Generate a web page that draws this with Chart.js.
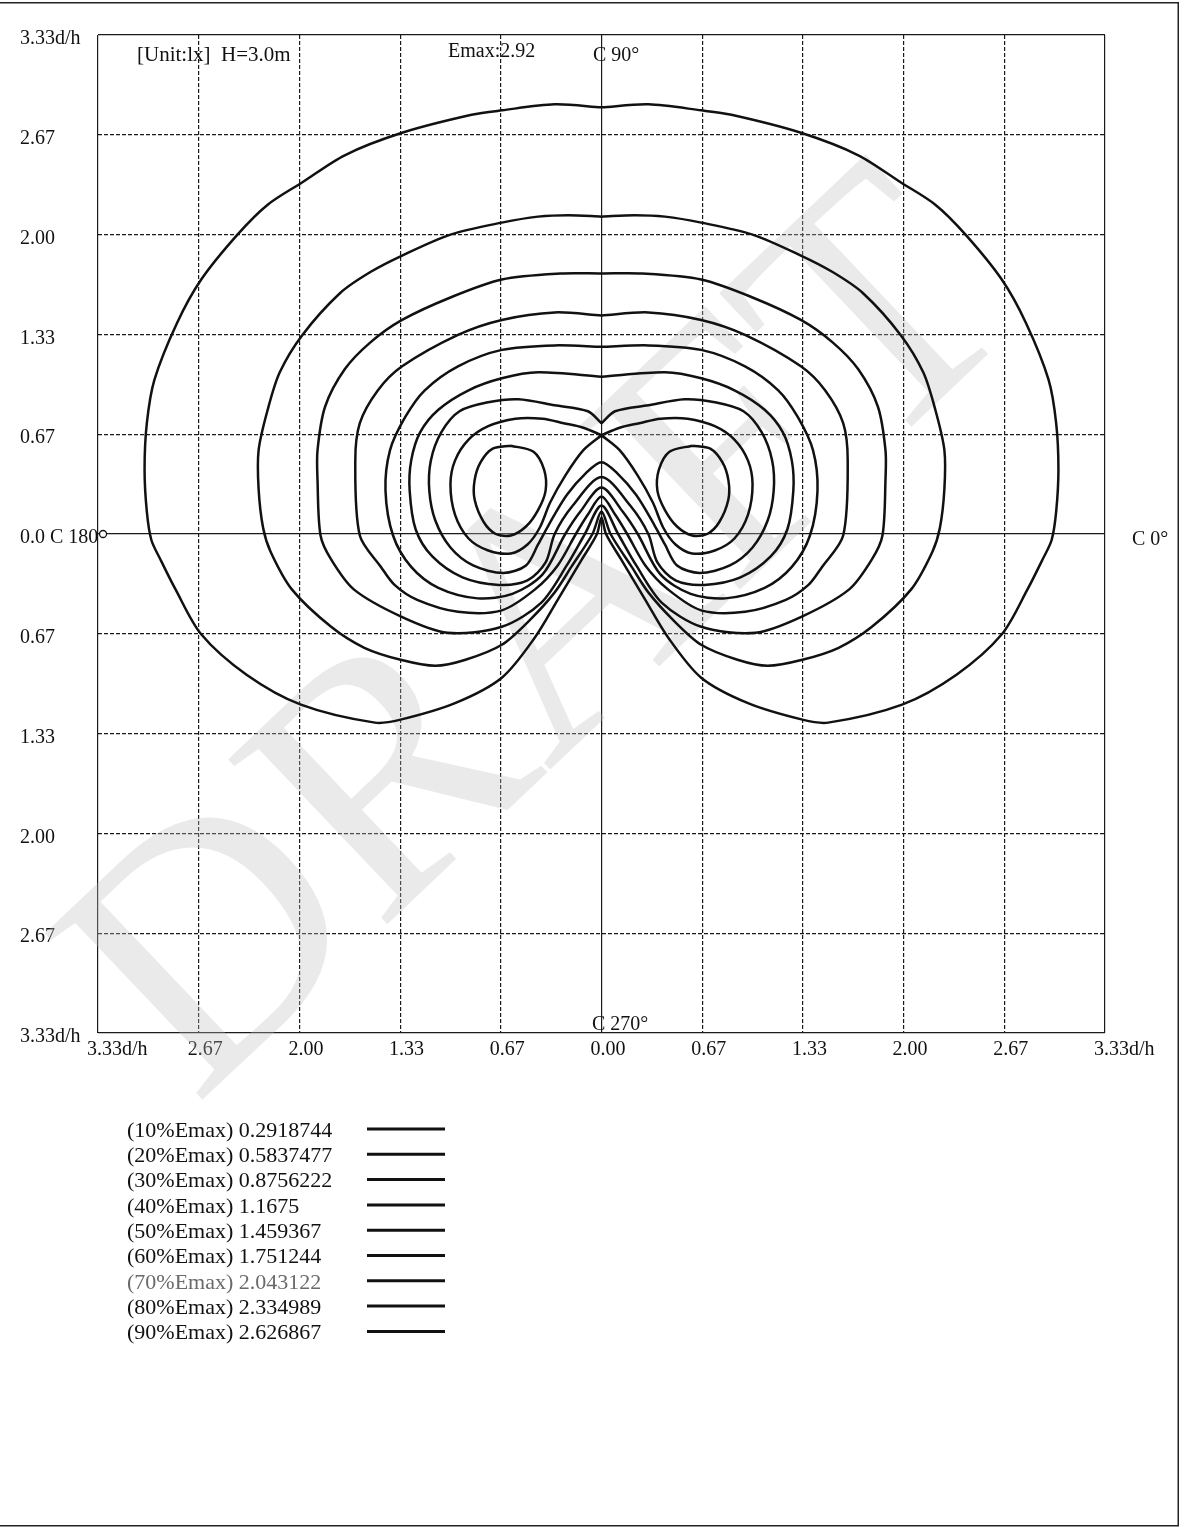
<!DOCTYPE html>
<html>
<head>
<meta charset="utf-8">
<script src="https://cdn.jsdelivr.net/npm/chart.js@4.4.1/dist/chart.umd.min.js"></script>
<style>
html,body{margin:0;padding:0;background:#fff;}
canvas{display:block;}
</style>
</head>
<body>
<canvas id="c" width="1181" height="1529"></canvas>
<script>
// ---- axis ticks ----
const tickValues = [-3.3333, -2.6667, -2.0, -1.3333, -0.6667, 0, 0.6667, 1.3333, 2.0, 2.6667, 3.3333];
const xTickLabels = ['3.33d/h','2.67','2.00','1.33','0.67','0.00','0.67','1.33','2.00','2.67','3.33d/h'];
const yTickLabels = ['3.33d/h','2.67','2.00','1.33','0.67','0.0 C 180','0.67','1.33','2.00','2.67','3.33d/h'];

// ---- legend ----
const levelNames = ['(10%Emax) 0.2918744','(20%Emax) 0.5837477','(30%Emax) 0.8756222','(40%Emax) 1.1675','(50%Emax) 1.459367','(60%Emax) 1.751244','(70%Emax) 2.043122','(80%Emax) 2.334989','(90%Emax) 2.626867'];

// ---- isolux contours (x, y in d/h) ----
const iso10X = [0,-0.31,-0.66,-0.86,-1.32,-1.70,-1.98,-2.21,-2.41,-2.65,-2.81,-2.96,-3.01,-3.025,-3.01,-2.98,-2.92,-2.82,-2.65,-2.35,-1.99,-1.50,-1.33,-0.97,-0.66,-0.44,-0.29,-0.13,-0.03,0,
  0.03,0.13,0.29,0.44,0.66,0.97,1.33,1.50,1.99,2.35,2.65,2.82,2.92,2.98,3.01,3.025,3.01,2.96,2.81,2.65,2.41,2.21,1.98,1.70,1.32,0.86,0.66,0.31,0];
const iso10Y = [2.85,2.87,2.83,2.80,2.68,2.53,2.35,2.20,2.00,1.70,1.41,1.03,0.74,0.43,0.15,-0.04,-0.17,-0.37,-0.67,-0.94,-1.14,-1.26,-1.24,-1.13,-0.96,-0.69,-0.44,-0.17,0,0.11,
  0,-0.17,-0.44,-0.69,-0.96,-1.13,-1.24,-1.26,-1.14,-0.94,-0.67,-0.37,-0.17,-0.04,0.15,0.43,0.74,1.03,1.41,1.70,2.00,2.20,2.35,2.53,2.68,2.80,2.83,2.87,2.85];

const iso20X = [0,-0.22,-0.42,-0.66,-1.00,-1.32,-1.53,-1.73,-1.98,-2.13,-2.21,-2.27,-2.27,-2.24,-2.19,-2.05,-1.79,-1.57,-1.33,-1.10,-0.90,-0.66,-0.47,-0.31,-0.20,-0.06,0,
  0.06,0.20,0.31,0.47,0.66,0.90,1.10,1.33,1.57,1.79,2.05,2.19,2.24,2.27,2.27,2.21,2.13,1.98,1.73,1.53,1.32,1.00,0.66,0.42,0.22,0];
const iso20Y = [2.12,2.13,2.12,2.08,2.00,1.86,1.75,1.61,1.33,1.08,0.83,0.56,0.30,0.04,-0.12,-0.37,-0.62,-0.76,-0.84,-0.88,-0.84,-0.74,-0.57,-0.39,-0.22,0,0.15,
  0,-0.22,-0.39,-0.57,-0.74,-0.84,-0.88,-0.84,-0.76,-0.62,-0.37,-0.12,0.04,0.30,0.56,0.83,1.08,1.33,1.61,1.75,1.86,2.00,2.08,2.12,2.13,2.12];

const iso30X = [0,-0.27,-0.66,-1.00,-1.32,-1.53,-1.70,-1.83,-1.88,-1.88,-1.86,-1.79,-1.64,-1.33,-1.02,-0.66,-0.40,-0.23,-0.11,0,
  0.11,0.23,0.40,0.66,1.02,1.33,1.64,1.79,1.86,1.88,1.88,1.83,1.70,1.53,1.32,1.00,0.66,0.27,0];
const iso30Y = [1.74,1.74,1.70,1.58,1.43,1.28,1.10,0.85,0.56,0.36,-0.01,-0.17,-0.37,-0.55,-0.66,-0.62,-0.46,-0.21,0,0.19,
  0,-0.21,-0.46,-0.62,-0.66,-0.55,-0.37,-0.17,-0.01,0.36,0.56,0.85,1.10,1.28,1.43,1.58,1.70,1.74,1.74];

const iso40X = [0,-0.31,-0.66,-0.95,-1.32,-1.48,-1.60,-1.63,-1.60,-1.46,-1.37,-1.22,-0.95,-0.66,-0.44,-0.29,-0.17,-0.09,0,
  0.09,0.17,0.29,0.44,0.66,0.95,1.22,1.37,1.46,1.60,1.63,1.60,1.48,1.32,0.95,0.66,0.31,0];
const iso40Y = [1.46,1.48,1.43,1.33,1.12,0.96,0.74,0.49,-0.01,-0.22,-0.34,-0.44,-0.52,-0.51,-0.37,-0.21,0,0.13,0.25,
  0.13,0,-0.21,-0.37,-0.51,-0.52,-0.44,-0.34,-0.22,-0.01,0.49,0.74,0.96,1.12,1.33,1.43,1.48,1.46];

const iso50X = [0,-0.31,-0.66,-0.95,-1.17,-1.30,-1.40,-1.43,-1.38,-1.26,-1.08,-0.82,-0.59,-0.39,-0.24,-0.14,0,
  0.14,0.24,0.39,0.59,0.82,1.08,1.26,1.38,1.43,1.40,1.30,1.17,0.95,0.66,0.31,0];
const iso50Y = [1.25,1.26,1.23,1.12,0.96,0.78,0.56,0.29,-0.01,-0.22,-0.36,-0.43,-0.40,-0.27,0,0.15,0.31,
  0.15,0,-0.27,-0.40,-0.43,-0.36,-0.22,-0.01,0.29,0.56,0.78,0.96,1.12,1.23,1.26,1.25];

const iso60X = [0,-0.42,-0.66,-0.88,-1.08,-1.20,-1.26,-1.27,-1.23,-1.12,-0.92,-0.68,-0.49,-0.37,-0.31,-0.19,0,
  0.19,0.31,0.37,0.49,0.68,0.92,1.12,1.23,1.27,1.26,1.20,1.08,0.88,0.66,0.42,0];
const iso60Y = [1.05,1.08,1.04,0.96,0.83,0.68,0.49,0.29,0.03,-0.15,-0.29,-0.34,-0.31,-0.19,0,0.19,0.38,
  0.19,0,-0.19,-0.31,-0.34,-0.29,-0.15,0.03,0.29,0.49,0.68,0.83,0.96,1.04,1.08,1.05];

const iso70X = [0,-0.09,-0.31,-0.55,-0.75,-0.94,-1.06,-1.13,-1.14,-1.10,-1.00,-0.85,-0.65,-0.50,-0.42,-0.35,-0.23,-0.10,0,
  0.10,0.23,0.35,0.42,0.50,0.65,0.85,1.00,1.10,1.14,1.13,1.06,0.94,0.75,0.55,0.31,0.09,0];
const iso70Y = [0.74,0.82,0.86,0.90,0.88,0.82,0.68,0.49,0.29,0.09,-0.09,-0.21,-0.26,-0.21,-0.07,0.06,0.26,0.41,0.48,
  0.41,0.26,0.06,-0.07,-0.21,-0.26,-0.21,-0.09,0.09,0.29,0.49,0.68,0.82,0.88,0.90,0.86,0.82,0.74];

const iso80LeftX = [0,-0.12,-0.25,-0.39,-0.57,-0.75,-0.88,-0.97,-1.00,-0.97,-0.88,-0.75,-0.60,-0.49,-0.41,-0.34,-0.24,-0.12,0];
const iso80LeftY = [0.66,0.71,0.74,0.77,0.77,0.72,0.63,0.49,0.33,0.13,-0.03,-0.11,-0.13,-0.07,0.04,0.21,0.39,0.56,0.66];
const iso80RightX = [0,0.12,0.25,0.39,0.57,0.75,0.88,0.97,1.00,0.97,0.88,0.75,0.60,0.49,0.41,0.34,0.24,0.12,0];
const iso80RightY = [0.66,0.71,0.74,0.77,0.77,0.72,0.63,0.49,0.33,0.13,-0.03,-0.11,-0.13,-0.07,0.04,0.21,0.39,0.56,0.66];

const iso90LeftX = [-0.60,-0.45,-0.38,-0.37,-0.42,-0.50,-0.60,-0.70,-0.78,-0.84,-0.84,-0.80,-0.72,-0.60];
const iso90LeftY = [0.59,0.55,0.43,0.29,0.16,0.05,-0.01,0,0.08,0.23,0.36,0.48,0.57,0.59];
const iso90RightX = [0.60,0.45,0.38,0.37,0.42,0.50,0.60,0.70,0.78,0.84,0.84,0.80,0.72,0.60];
const iso90RightY = [0.59,0.55,0.43,0.29,0.16,0.05,-0.01,0,0.08,0.23,0.36,0.48,0.57,0.59];

// ---- build datasets ----
function pts(xs, ys){ return xs.map((x,i)=>({x:x, y:ys[i]})); }
const contourSets = [
  [iso10X, iso10Y], [iso20X, iso20Y], [iso30X, iso30Y], [iso40X, iso40Y],
  [iso50X, iso50Y], [iso60X, iso60Y], [iso70X, iso70Y],
  [iso80LeftX, iso80LeftY], [iso80RightX, iso80RightY],
  [iso90LeftX, iso90LeftY], [iso90RightX, iso90RightY]
];
const datasets = contourSets.map(([xs,ys]) => ({
  data: pts(xs, ys), showLine: true, borderColor: '#111', borderWidth: 2.5,
  pointRadius: 0, tension: 0.3, fill: false
}));
datasets.push({ data: [{x:-3.30, y:0}], showLine:false, pointRadius:3.5, pointBorderWidth:1.3,
  pointBorderColor:'#111', pointBackgroundColor:'#fff' });

const SERIF = '"Liberation Serif", "DejaVu Serif", serif';

function gridDash(ctx){
  const v = ctx.tick ? ctx.tick.value : null;
  if (v === null) return [];
  if (Math.abs(v) < 1e-6 || Math.abs(Math.abs(v) - 3.3333) < 1e-3) return [];
  return [4, 2];
}

const textPlugin = {
  id: 'texts',
  beforeDatasetsDraw(chart){
    const c = chart.ctx;
    // watermark
    c.save();
    c.translate(548, 645);
    c.rotate(-43.5 * Math.PI / 180);
    c.font = '350px ' + SERIF;
    c.textAlign = 'center';
    c.textBaseline = 'middle';
    c.fillStyle = 'rgba(190,190,190,0.32)';
    c.fillText('DRAFT', 0, 0);
    c.restore();
  },
  afterDraw(chart){
    const c = chart.ctx;
    c.save();
    c.fillStyle = '#111';
    c.textBaseline = 'alphabetic';
    c.textAlign = 'left';
    c.font = '21px ' + SERIF;
    c.fillText('[Unit:lx]  H=3.0m', 137, 61);
    c.font = '20px ' + SERIF;
    c.fillText('Emax:2.92', 448, 57);
    c.fillText('C 90\u00b0', 593, 61);
    c.fillText('C 270\u00b0', 592, 1030);
    c.fillText('C 0\u00b0', 1132, 545);
    // legend
    c.font = '22px ' + SERIF;
    for (let i = 0; i < levelNames.length; i++) {
      const y = 1131 + i * 25.3;
      c.fillStyle = i === 6 ? '#6a6a6a' : '#111';
      c.textBaseline = 'middle';
      c.fillText(levelNames[i], 127, y);
      c.strokeStyle = '#111';
      c.lineWidth = 3;
      c.beginPath();
      c.moveTo(367, y - 2);
      c.lineTo(445, y - 2);
      c.stroke();
    }
    // page frame (top, right, bottom)
    c.strokeStyle = '#222';
    c.lineWidth = 1.5;
    c.beginPath();
    c.moveTo(0, 2.75); c.lineTo(1178.25, 2.75); c.lineTo(1178.25, 1525.75); c.lineTo(0, 1525.75);
    c.stroke();
    c.restore();
  }
};

new Chart(document.getElementById('c'), {
  type: 'scatter',
  data: { datasets },
  options: {
    responsive: false,
    animation: false,
    devicePixelRatio: 1,
    layout: { padding: { left: 20, top: 35, right: 76, bottom: 456 } },
    plugins: { legend: { display: false }, tooltip: { enabled: false } },
    scales: {
      x: {
        type: 'linear', min: -3.3333, max: 3.3333,
        afterBuildTicks: s => { s.ticks = tickValues.map(v => ({ value: v })); },
        afterFit: s => { s.height = 40; },
        ticks: {
          autoSkip: false, maxRotation: 0, align: 'start', labelOffset: -11, padding: 5,
          color: '#111', font: { family: SERIF, size: 20 },
          callback: (v, i) => xTickLabels[i]
        },
        grid: { color: '#1a1a1a', lineWidth: 1.2, drawTicks: false },
        border: { display: false, dash: gridDash }
      },
      y: {
        type: 'linear', min: -3.3333, max: 3.3333,
        afterBuildTicks: s => { s.ticks = tickValues.map(v => ({ value: v })); },
        afterFit: s => { s.width = 78; },
        ticks: {
          autoSkip: false, crossAlign: 'far', labelOffset: 4, padding: 0,
          color: '#111', font: { family: SERIF, size: 20 },
          callback: (v, i) => yTickLabels[i]
        },
        grid: { color: '#1a1a1a', lineWidth: 1.2, drawTicks: false },
        border: { display: false, dash: gridDash }
      }
    }
  },
  plugins: [textPlugin]
});
</script>
</body>
</html>
